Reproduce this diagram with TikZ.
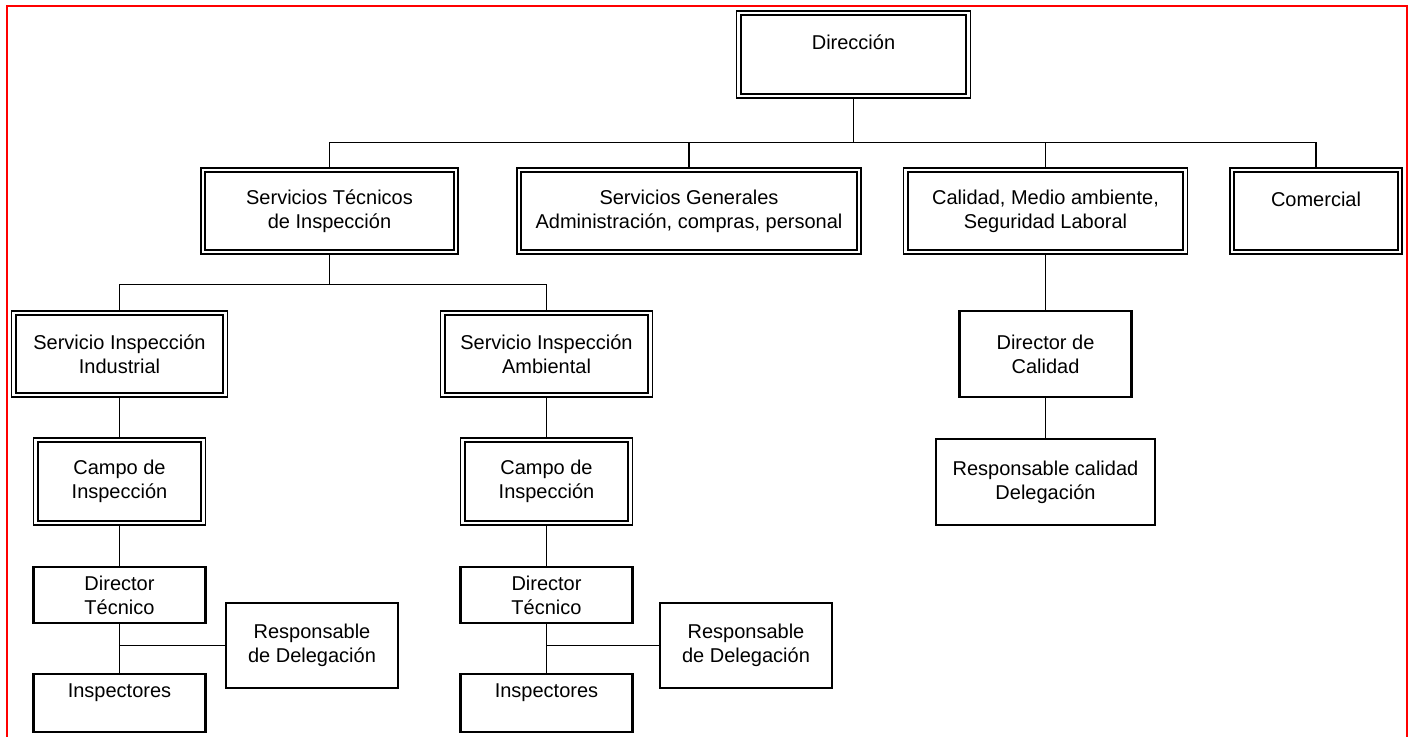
\documentclass[tikz,border=0pt]{standalone}
\usepackage{fontspec}
\setmainfont{Liberation Sans}

\begin{document}
\begin{tikzpicture}
% pixel-like units, y grows downwards like the sketch
[x=1pt,y=-1pt,
 box/.style={draw,line width=2.3pt,align=center,inner sep=0pt,font=\fontsize{20}{24}\selectfont},
 dbox/.style={draw,line width=1.1pt,align=center,inner sep=0pt,font=\fontsize{20}{24}\selectfont,
   path picture={\draw[line width=2.1pt] ([shift={(4.2pt,4.2pt)}]path picture bounding box.south west)
     rectangle ([shift={(-4.2pt,-4.2pt)}]path picture bounding box.north east);}},
 link/.style={line width=1.4pt}]
\useasboundingbox (0,0) rectangle (1413,736);
\draw[red,line width=2.4pt] (7,6) rectangle (1407,760);
%Top of the chart:
\node[dbox,minimum width=234pt,minimum height=87pt] (dir) at (853.5,54.5) {Dirección\\~};
\node[dbox,minimum width=257pt,minimum height=86pt] (sti) at (329.5,211) {Servicios Técnicos\\de Inspección};
\node[dbox,minimum width=344pt,minimum height=86pt] (sg) at (689,211) {Servicios Generales\\Administración, compras, personal};
\node[dbox,minimum width=284pt,minimum height=86pt] (cal) at (1045.5,211) {Calidad, Medio ambiente,\\Seguridad Laboral};
\node[dbox,minimum width=172pt,minimum height=86pt] (com) at (1316,211) {Comercial\\~};
\foreach \n in {sti,sg,cal,com}
  \draw[link] (dir.south) -- ++(0,44) -| (\n.north);
%Inspection branches:
\node[dbox,minimum width=216pt,minimum height=86pt] (si1) at (119.5,354) {Servicio Inspección\\Industrial};
\node[dbox,minimum width=212pt,minimum height=86pt] (si2) at (546.5,354) {Servicio Inspección\\Ambiental};
\foreach \n in {si1,si2}
  \draw[link] (sti.south) -- ++(0,30) -| (\n.north);
\foreach \c/\x/\r in {1/119.5/312,2/546.5/746}{
\node[dbox,minimum width=172pt,minimum height=87pt] (cp\c) at (\x,481.5) {Campo de\\Inspección};
\node[box,minimum width=172pt,minimum height=56pt] (dt\c) at (\x,595) {Director\\Técnico};
\node[box,minimum width=172pt,minimum height=58pt] (in\c) at (\x,703) {Inspectores\\~};
\node[box,minimum width=172pt,minimum height=85pt] (rd\c) at (\r,645.5) {Responsable\\de Delegación};
\draw[link] (si\c) -- (cp\c);
\draw[link] (cp\c) -- (dt\c);
\draw[link] (dt\c) -- (in\c);
\draw[link] (dt\c.south |- rd\c.west) -- (rd\c.west);}
%Quality branch:
\node[box,minimum width=172pt,minimum height=86pt] (dc) at (1045.5,354) {Director de\\Calidad};
\node[box,minimum width=219pt,minimum height=86pt] (rc) at (1045.5,482) {Responsable calidad\\Delegación};
\draw[link] (cal) -- (dc);
\draw[link] (dc) -- (rc);
\end{tikzpicture}
\end{document}
